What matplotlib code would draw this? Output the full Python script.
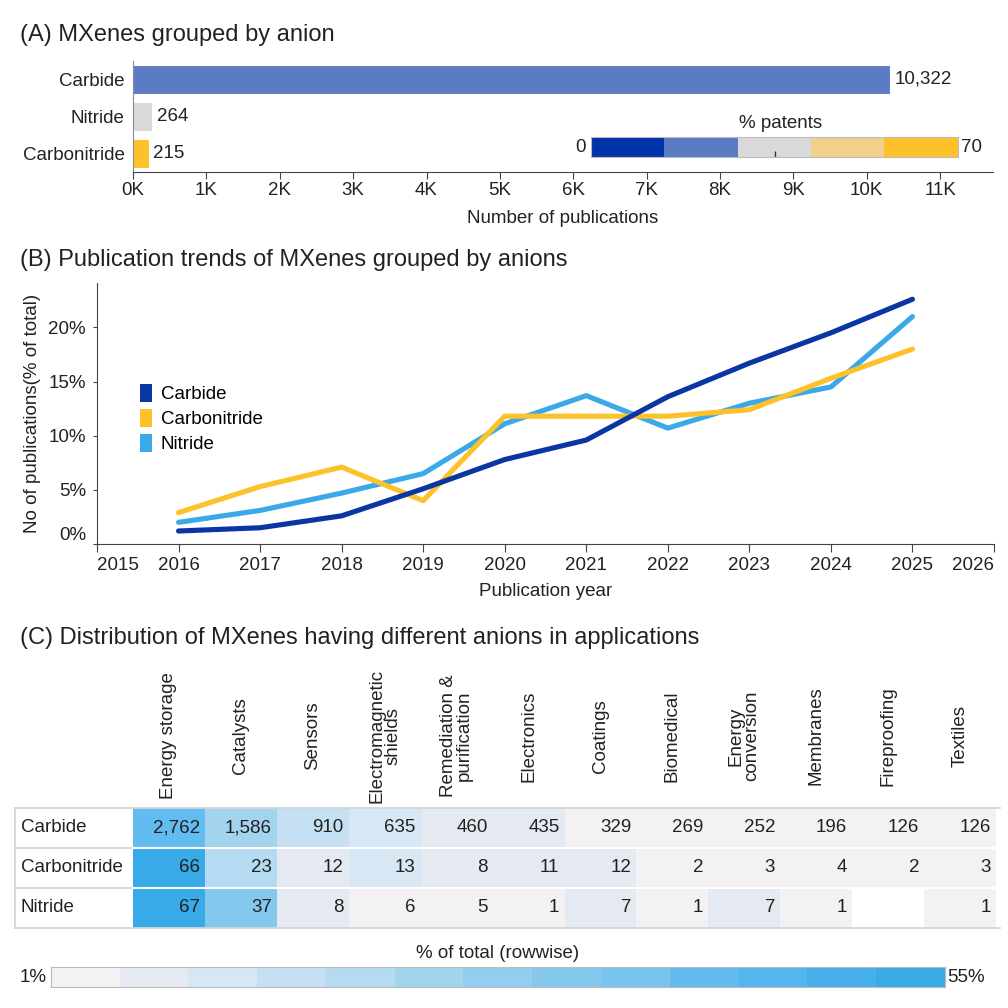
import numpy as np
import matplotlib
matplotlib.use("Agg")
import matplotlib.pyplot as plt
from matplotlib.colors import ListedColormap, BoundaryNorm
from matplotlib.patches import Patch
from matplotlib.lines import Line2D

plt.rcParams['font.family'] = ['Liberation Sans', 'DejaVu Sans']

# ---------------- data ----------------
anions_a = ["Carbide", "Nitride", "Carbonitride"]
pubs_a = [10322, 264, 215]
bar_colors_a = ["#5b7bc4", "#d9d9db", "#fdc12a"]
patent_colors = ["#0033a8", "#5b7bc4", "#d9d9db", "#f0d08a", "#fdc12a"]

years = [2016, 2017, 2018, 2019, 2020, 2021, 2022, 2023, 2024, 2025]
carbide_pct = [1.2, 1.5, 2.6, 5.1, 7.8, 9.6, 13.6, 16.7, 19.5, 22.6]
carbonitride_pct = [2.9, 5.3, 7.1, 4.0, 11.8, 11.8, 11.8, 12.4, 15.3, 18.0]
nitride_pct = [2.0, 3.1, 4.7, 6.5, 11.1, 13.7, 10.7, 13.0, 14.5, 21.0]

applications = ["Energy storage", "Catalysts", "Sensors", "Electromagnetic\nshields",
                "Remediation &\npurification", "Electronics", "Coatings", "Biomedical",
                "Energy\nconversion", "Membranes", "Fireproofing", "Textiles"]
rows_c = ["Carbide", "Carbonitride", "Nitride"]
carbide_apps = [2762, 1586, 910, 635, 460, 435, 329, 269, 252, 196, 126, 126]
carbonitride_apps = [66, 23, 12, 13, 8, 11, 12, 2, 3, 4, 2, 3]
nitride_apps = [67, 37, 8, 6, 5, 1, 7, 1, 7, 1, np.nan, 1]

heat_colors = ["#f3f1f4", "#e5e9f1", "#d7e7f3", "#c5e0f2", "#b4dbf2", "#a3d4ee", "#93ceee",
               "#84c8ee", "#76c4ef", "#62bcef", "#55b6ed", "#47b0eb", "#39aae8"]

# ---------------- figure helpers ----------------
W = H = 1008
fig = plt.figure(figsize=(W / 100, H / 100), dpi=100)
TXT = "#222222"
SP = "#444444"


def px_axes(x0, y0, x1, y1):
    return fig.add_axes([x0 / W, 1 - y1 / H, (x1 - x0) / W, (y1 - y0) / H])


def ftext(x, y, s, **kw):
    kw.setdefault("color", TXT)
    return fig.text(x / W, 1 - y / H, s, **kw)


FS = 13.5
TFS = 17

# ---------------- Panel A ----------------
ftext(20, 35, "(A) MXenes grouped by anion", fontsize=TFS, va="center", ha="left")
axA = px_axes(133, 61, 993, 172)
ypos = np.arange(len(anions_a))
axA.barh(ypos, pubs_a, height=0.76, color=bar_colors_a, edgecolor="white", linewidth=0.8)
for y, v in zip(ypos, pubs_a):
    axA.text(v + 60, y, f"{v:,}", va="center", ha="left", fontsize=FS, color=TXT)
axA.set_ylim(2.5, -0.5)
axA.set_xlim(0, 11720)
axA.set_yticks(ypos)
axA.set_yticklabels(anions_a, fontsize=FS, color=TXT)
axA.tick_params(axis="y", length=0, pad=6)
xt = np.arange(0, 12000, 1000)
axA.set_xticks(xt)
axA.set_xticklabels([f"{int(t/1000)}K" for t in xt], fontsize=FS, color=TXT)
axA.tick_params(axis="x", length=5, color=SP, pad=2)
axA.set_xlabel("Number of publications", fontsize=FS, color=TXT, labelpad=8)
for s in ["top", "right"]:
    axA.spines[s].set_visible(False)
axA.spines["left"].set_color("#888888")
axA.spines["bottom"].set_color(SP)

# % patents colorbar
axP = px_axes(591, 137, 958, 157)
axP.imshow(np.arange(5).reshape(1, -1), cmap=ListedColormap(patent_colors), aspect="auto",
           extent=(0, 70, 0, 1))
axP.set_xlim(0, 70)
axP.set_xticks([35])
axP.set_xticklabels([])
axP.tick_params(axis="x", length=4, width=1, color="#333333", direction="in")
axP.set_yticks([])
for s in axP.spines.values():
    s.set_color("#bbbbbb")
ftext(781, 123, "% patents", fontsize=FS, ha="center", va="center")
ftext(586, 147, "0", fontsize=FS, ha="right", va="center")
ftext(961, 147, "70", fontsize=FS, ha="left", va="center")

# ---------------- Panel B ----------------
ftext(20, 260, "(B) Publication trends of MXenes grouped by anions", fontsize=TFS, va="center", ha="left")
axB = px_axes(97, 283, 994, 544)
lw = 3.7
axB.plot(years, nitride_pct, color="#3aa9e8", lw=lw, solid_capstyle="round", zorder=2)
axB.plot(years, carbonitride_pct, color="#fdc12a", lw=lw, solid_capstyle="round", zorder=3)
axB.plot(years, carbide_pct, color="#0a36a3", lw=lw, solid_capstyle="round", zorder=4)
axB.set_xlim(2015, 2026)
axB.set_ylim(0, 24.1)
yrs = np.arange(2015, 2027)
axB.set_xticks(yrs)
axB.set_xticklabels([str(y) for y in yrs], fontsize=FS, color=TXT)
labs = axB.get_xticklabels()
labs[0].set_ha("left")
labs[-1].set_ha("right")
axB.tick_params(axis="x", length=6, color=SP, pad=3)
yt = [0, 5, 10, 15, 20]
axB.set_yticks(yt)
axB.set_yticklabels([f"{v}%" for v in yt], fontsize=FS, color=TXT)
axB.get_yticklabels()[0].set_va("bottom")
axB.tick_params(axis="y", length=3, color=SP, pad=5)
axB.set_xlabel("Publication year", fontsize=FS, color=TXT, labelpad=7)
axB.set_ylabel("No of publications(% of total)", fontsize=FS, color=TXT, labelpad=5)
for s in ["top", "right"]:
    axB.spines[s].set_visible(False)
for s in ["left", "bottom"]:
    axB.spines[s].set_color(SP)
handles = [Patch(facecolor=c, edgecolor="none") for c in ["#0a36a3", "#fdc12a", "#3aa9e8"]]
axB.legend(handles, ["Carbide", "Carbonitride", "Nitride"], loc="upper left",
           bbox_to_anchor=(140 / W, 1 - 384 / H), bbox_transform=fig.transFigure,
           frameon=False, fontsize=FS, handlelength=0.65, handleheight=1.1,
           handletextpad=0.45, labelspacing=0.3, borderaxespad=0, borderpad=0)

# ---------------- Panel C ----------------
ftext(20, 638, "(C) Distribution of MXenes having different anions in applications", fontsize=TFS,
      va="center", ha="left")

counts = np.array([carbide_apps, carbonitride_apps, nitride_apps], dtype=float)
pct = counts / np.nansum(counts, axis=1, keepdims=True) * 100

cmapC = ListedColormap(heat_colors)
cmapC.set_bad("white")
bounds = np.r_[0, 4.5 + 3.3 * np.arange(12), 100]
normC = BoundaryNorm(bounds, cmapC.N)

x_tab0, x_tab1 = 133, 996
y_tab0, y_tab1 = 808, 928
axC = px_axes(x_tab0, y_tab0, x_tab1, y_tab1)
axC.pcolormesh(np.arange(13), np.arange(4), np.ma.masked_invalid(pct), cmap=cmapC, norm=normC)
axC.set_xlim(0, 12)
axC.set_ylim(3, 0)
axC.axis("off")
for i in range(3):
    for j in range(12):
        v = counts[i, j]
        if not np.isnan(v):
            axC.text(j + 0.93, i + 0.5, f"{int(v):,}", ha="right", va="center",
                     fontsize=FS, color=TXT)
# header labels
cw = (x_tab1 - x_tab0) / 12
for j, name in enumerate(applications):
    ftext(x_tab0 + cw * (j + 0.5), 736, name, rotation=90, ha="center", va="center",
          multialignment="center", fontsize=FS, linespacing=0.9)
# row labels
rh = (y_tab1 - y_tab0) / 3
for i, name in enumerate(rows_c):
    ftext(21, y_tab0 + rh * (i + 0.5), name, ha="left", va="center", fontsize=FS)
# table grid lines
for k in range(4):
    yy = 1 - (y_tab0 + rh * k) / H
    if k in (0, 3):
        fig.add_artist(Line2D([15 / W, 1000 / W], [yy, yy], color="#d5d5d5", lw=1.3))
    else:
        fig.add_artist(Line2D([15 / W, x_tab0 / W], [yy, yy], color="#d5d5d5", lw=1.3))
        fig.add_artist(Line2D([x_tab0 / W, x_tab1 / W], [yy, yy], color="white", lw=1.5))
fig.add_artist(Line2D([15 / W, 15 / W], [1 - y_tab0 / H, 1 - y_tab1 / H], color="#d5d5d5", lw=1.3))

# rowwise colorbar
axCB = px_axes(51, 967, 945, 987)
axCB.imshow(np.arange(13).reshape(1, -1), cmap=ListedColormap(heat_colors), aspect="auto",
            extent=(0, 13, 0, 1))
axCB.set_xticks([])
axCB.set_yticks([])
for s in axCB.spines.values():
    s.set_color("#bbbbbb")
ftext(498, 953, "% of total (rowwise)", fontsize=FS, ha="center", va="center")
ftext(47, 977, "1%", fontsize=FS, ha="right", va="center")
ftext(947, 977, "55%", fontsize=FS, ha="left", va="center")

fig.savefig("out.png", dpi=100, facecolor="white")
